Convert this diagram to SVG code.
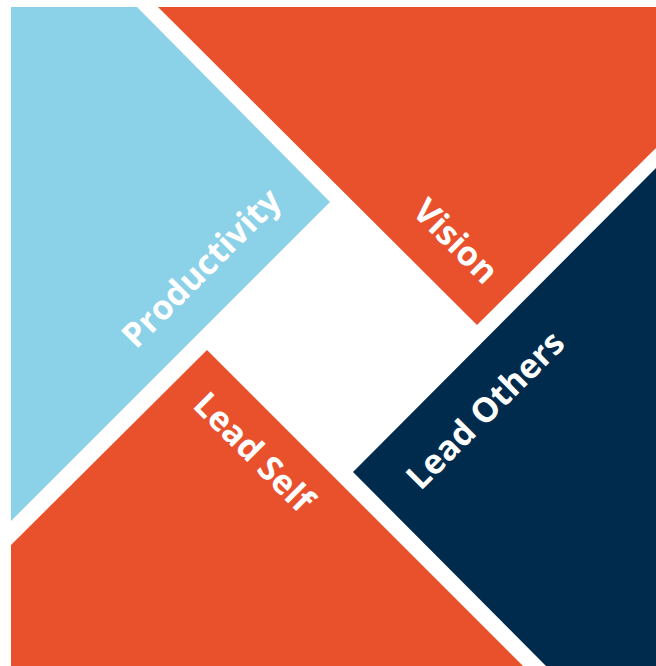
<svg xmlns="http://www.w3.org/2000/svg" width="656" height="666" viewBox="0 0 656 666">
<style>
.lbl{font-family:"Open Sans","Liberation Sans",sans-serif;font-weight:700;font-size:34px;fill:#fff;text-anchor:middle}
.blue{fill:#8BD1E7}.orange{fill:#E9502C}.navy{fill:#002B4C}
</style>
<rect width="656" height="666" fill="#fff"/>
<g id="productivity">
<polygon class="blue" points="11,7 137,7 330,202 11,521"/>
<text class="lbl" transform="translate(201,268) rotate(-45)" y="12">Productivity</text>
</g>
<g id="vision">
<polygon class="orange" points="158,7 656,7 656,148 477,325"/>
<text class="lbl" transform="translate(456,241) rotate(45)" y="12">Vision</text>
</g>
<g id="lead-others">
<polygon class="navy" points="656,168 656,666 546,666 353,472"/>
<text class="lbl" transform="translate(485,410) rotate(-45)" y="12">Lead Others</text>
</g>
<g id="lead-self">
<polygon class="orange" points="207,350 523,666 11,666 11,545"/>
<text class="lbl" transform="translate(254,452) rotate(45)" y="12">Lead Self</text>
</g>
<g id="connectors"/>
</svg>
